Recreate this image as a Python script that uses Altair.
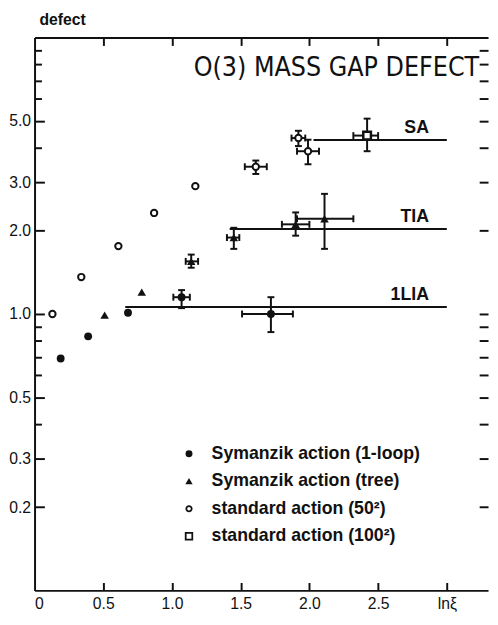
import altair as alt
import pandas as pd

# ---------------- data ----------------
series_names = ["Symanzik action (1-loop)", "Symanzik action (tree)",
                "standard action (50²)", "standard action (100²)"]

N = None
pt_series = [0, 0, 0, 0, 0,
             1, 1, 1, 1, 1, 1,
             2, 2, 2, 2, 2, 2, 2, 2,
             3]
pt_x = [0.19, 0.39, 0.68, 1.07, 1.72,
        0.51, 0.78, 1.14, 1.45, 1.90, 2.11,
        0.13, 0.34, 0.61, 0.87, 1.17, 1.61, 1.92, 1.99,
        2.42]
pt_y = [0.69, 0.83, 1.01, 1.15, 1.00,
        0.99, 1.20, 1.55, 1.89, 2.11, 2.21,
        1.00, 1.36, 1.76, 2.32, 2.90, 3.41, 4.33, 3.88,
        4.42]
pt_xlo = [N, N, N, 1.01, 1.51,
          N, N, 1.10, 1.40, 1.80, 1.91,
          N, N, N, N, N, 1.53, 1.87, 1.91,
          2.32]
pt_xhi = [N, N, N, 1.13, 1.88,
          N, N, 1.19, 1.49, 2.00, 2.32,
          N, N, N, N, N, 1.69, 1.97, 2.07,
          2.50]
pt_ylo = [N, N, N, 1.05, 0.86,
          N, N, 1.47, 1.72, 1.92, 1.72,
          N, N, N, N, N, 3.21, 4.05, 3.48,
          3.88]
pt_yhi = [N, N, N, 1.22, 1.15,
          N, N, 1.64, 2.05, 2.33, 2.72,
          N, N, N, N, N, 3.59, 4.60, 4.27,
          5.09]

line_names = ["SA", "TIA", "1LIA"]
line_y = [4.26, 2.03, 1.06]
line_x0 = [2.03, 1.42, 0.66]
line_x1 = [3.0, 3.0, 3.0]

y_major = [0.2, 0.3, 0.5, 1.0, 2.0, 3.0, 5.0]
y_minor = [0.4, 0.6, 0.7, 0.8, 0.9, 4.0, 6.0, 7.0, 8.0, 9.0]
x_ticks = [0.0, 0.5, 1.0, 1.5, 2.0, 2.5, 3.0]

title_text = "O(3) MASS GAP DEFECT"
y_title_text = "defect"

# ---------------- tables ----------------
pts = pd.DataFrame({"s": pt_series, "x": pt_x, "y": pt_y,
                    "xlo": pt_xlo, "xhi": pt_xhi, "ylo": pt_ylo, "yhi": pt_yhi})
lines = pd.DataFrame({"name": line_names, "y": line_y, "x0": line_x0, "x1": line_x1})

W, H = 461, 562
FONT = "Liberation Sans"
INK = "#111111"
xs = alt.Scale(domain=[0, 3.3], nice=False, zero=False)
ys = alt.Scale(type="log", domain=[0.1, 10], nice=False)
is_major = "indexof([0.2,0.3,0.5,1,2,3,5], datum.value) >= 0"

common_tick = dict(grid=False, title=None, tickColor=INK, tickWidth=2,
                   domainColor=INK, domainWidth=2)

ax_y_labels = alt.Axis(orient="left", values=y_major, ticks=False, domain=False,
                       grid=False, title=None,
                       labelExpr="format(datum.value, '.1f')",
                       labelFont=FONT, labelFontSize=16, labelColor=INK, labelPadding=4)
ax_y_left = alt.Axis(orient="right", offset=-W, values=y_major + y_minor, labels=False,
                     domain=True,
                     tickSize={"condition": {"test": is_major, "value": 10}, "value": 7},
                     **common_tick)
ax_y_right = alt.Axis(orient="left", offset=-W, values=y_major + y_minor, labels=False,
                      domain=False, tickSize=9, **common_tick)

ax_x_labels = alt.Axis(orient="bottom", values=x_ticks, ticks=False, domain=False,
                       grid=False, title=None,
                       labelExpr="datum.value == 3 ? 'lnξ' : (datum.value == 0 ? '0' : format(datum.value, '.1f'))",
                       labelFont=FONT, labelFontSize=16, labelColor=INK, labelPadding=5)
ax_x_bottom = alt.Axis(orient="top", offset=-H, values=x_ticks[1:], labels=False,
                       domain=True, tickSize=8, **common_tick)
ax_x_top = alt.Axis(orient="bottom", offset=-H, values=x_ticks[1:], labels=False,
                    domain=True, tickSize=8, **common_tick)

has_x = "isValid(datum.xlo)"
has_y = "isValid(datum.ylo)"
base = alt.Chart(pts)

# error bars
xerr = base.transform_filter(has_x).mark_rule(color=INK, strokeWidth=2).encode(
    x=alt.X("xlo:Q", scale=xs, axis=ax_x_labels), x2="xhi:Q",
    y=alt.Y("y:Q", scale=ys, axis=ax_y_labels))
yerr = base.transform_filter(has_y).mark_rule(color=INK, strokeWidth=2).encode(
    x=alt.X("x:Q", scale=xs, axis=ax_x_bottom),
    y=alt.Y("ylo:Q", scale=ys, axis=ax_y_left), y2="yhi:Q")
cap_kw = dict(color=INK, thickness=2, size=7, opacity=1)
xcap_lo = base.transform_filter(has_x).mark_tick(orient="vertical", **cap_kw).encode(
    x=alt.X("xlo:Q", scale=xs, axis=None), y=alt.Y("y:Q", scale=ys, axis=None))
xcap_hi = base.transform_filter(has_x).mark_tick(orient="vertical", **cap_kw).encode(
    x=alt.X("xhi:Q", scale=xs, axis=None), y=alt.Y("y:Q", scale=ys, axis=None))
ycap_lo = base.transform_filter(has_y).mark_tick(orient="horizontal", **cap_kw).encode(
    x=alt.X("x:Q", scale=xs, axis=None), y=alt.Y("ylo:Q", scale=ys, axis=None))
ycap_hi = base.transform_filter(has_y).mark_tick(orient="horizontal", **cap_kw).encode(
    x=alt.X("x:Q", scale=xs, axis=None), y=alt.Y("yhi:Q", scale=ys, axis=None))

# limit lines and their labels
hlines = alt.Chart(lines).mark_rule(color=INK, strokeWidth=2).encode(
    x=alt.X("x0:Q", scale=xs, axis=None), x2="x1:Q",
    y=alt.Y("y:Q", scale=ys, axis=None))
hlabels = alt.Chart(lines).mark_text(align="right", baseline="middle", dy=-12.5, dx=0,
                                     font=FONT, fontSize=18, fontWeight="bold",
                                     color=INK).encode(
    x=alt.value((2.87 / 3.3) * W),
    y=alt.Y("y:Q", scale=ys, axis=None), text="name:N")

# points
markers = [("circle", True, 64, 1), ("triangle-up", True, 75, 1),
           ("circle", False, 42, 2), ("square", False, 60, 2.5)]
point_layers = []
for i, (shape, filled, size, sw) in enumerate(markers):
    kw = dict(shape=shape, size=size, opacity=1, strokeWidth=sw)
    if filled:
        kw.update(filled=True, color=INK)
    else:
        kw.update(filled=True, fill="white", stroke=INK)
    enc = dict(x=alt.X("x:Q", scale=xs, axis=None), y=alt.Y("y:Q", scale=ys, axis=None))
    if i == 0:
        enc = dict(x=alt.X("x:Q", scale=xs, axis=ax_x_top),
                   y=alt.Y("y:Q", scale=ys, axis=ax_y_right))
    point_layers.append(base.transform_filter(f"datum.s == {i}").mark_point(**kw).encode(**enc))

# manual legend
legend_layers = []
leg_sizes = [50, 55, 30, 45]
for i, name in enumerate(series_names):
    shape, filled, _, sw = markers[i]
    kw = dict(shape=shape, size=leg_sizes[i], opacity=1)
    if filled:
        kw.update(filled=True, color=INK)
    else:
        kw.update(filled=True, fill="white", stroke=INK, strokeWidth=1.8)
    ypix = 423 + 28 * i
    legend_layers.append(alt.Chart(pd.DataFrame({"t": [name]})).mark_point(**kw).encode(
        x=alt.value(157), y=alt.value(ypix)))
    legend_layers.append(alt.Chart(pd.DataFrame({"t": [name]})).mark_text(
        align="left", baseline="middle", font=FONT, fontSize=18, fontWeight="bold",
        color=INK).encode(x=alt.value(180), y=alt.value(ypix), text="t:N"))

title = alt.Chart(pd.DataFrame({"t": [title_text]})).mark_text(
    align="right", baseline="middle", font="DejaVu Sans Condensed, Liberation Sans",
    fontSize=27, color=INK).encode(x=alt.value(452), y=alt.value(31), text="t:N")
ytitle = alt.Chart(pd.DataFrame({"t": [y_title_text]})).mark_text(
    align="left", baseline="middle", font=FONT, fontSize=16, fontWeight="bold",
    color=INK).encode(x=alt.value(5), y=alt.value(-18), text="t:N")

chart = alt.layer(
    xerr, yerr, xcap_lo, xcap_hi, ycap_lo, ycap_hi, hlines, hlabels,
    *point_layers, *legend_layers, title, ytitle
).resolve_axis(x="independent", y="independent").properties(
    width=W, height=H,
    padding={"left": 27, "top": 25, "right": 2, "bottom": 22},
    autosize=alt.AutoSizeParams(type="none"),
    background="white",
).configure_view(stroke=None)

chart.save("out.html", embed_options={"renderer": "svg", "actions": False})
